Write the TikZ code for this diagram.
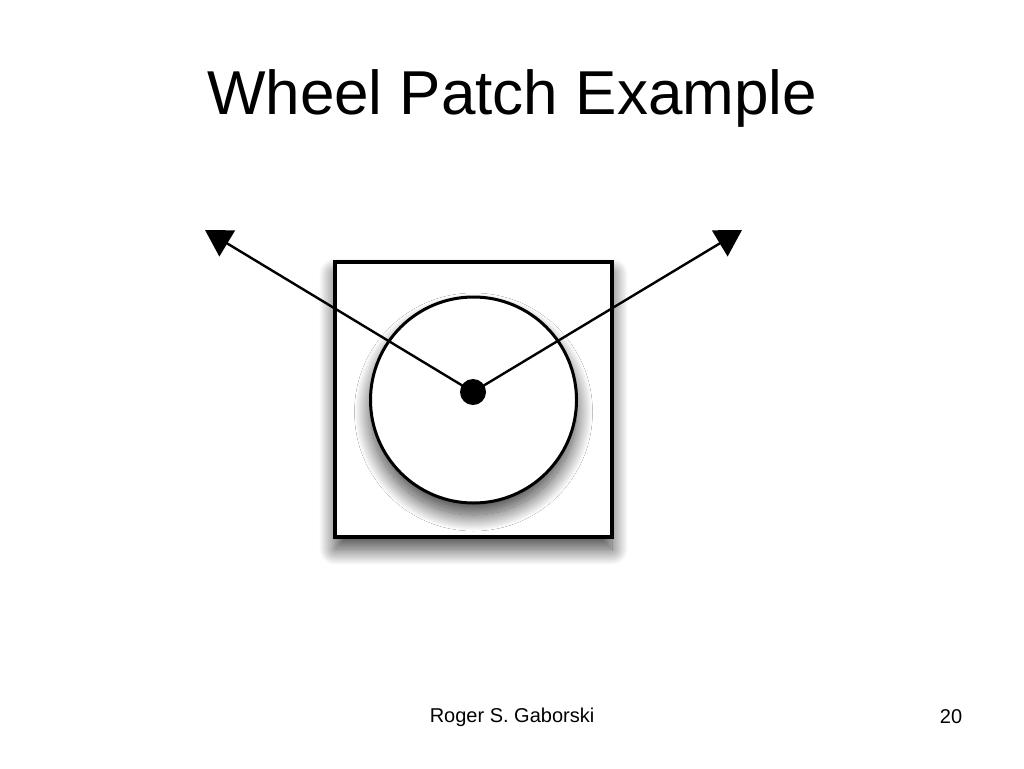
\documentclass[tikz,border=0pt]{standalone}
\usepackage{fontspec}
\setmainfont{Liberation Sans}
\usetikzlibrary{arrows.meta,shadows.blur}

\begin{document}
\begin{tikzpicture}[x=1pt,y=-1pt,>={Triangle[length=26pt,width=30pt]},
        shade/.style={blur shadow={shadow xshift=0pt,shadow yshift=-12pt,shadow blur radius=16pt,shadow blur steps=40,shadow opacity=75}},
        patch/.style={draw,line width=3.5pt,fill=white,shade,minimum width=277pt,minimum height=275pt,inner sep=0pt},
        wheel/.style={circle,draw,line width=3pt,fill=white,shade,minimum size=206pt,inner sep=0pt},
        hub/.style={circle,fill=black,minimum size=26pt,inner sep=0pt}]

                \useasboundingbox (0,0) rectangle (1024,768);

                \node (title) at (512,98) {\fontsize{62}{70}\selectfont Wheel Patch Example};

                \node[patch] (box) at (473.5,399.5) {};

                \node[wheel] (rim) at (473.5,400) {};

                \node[hub] (hub) at (473,392) {};

                \coordinate (tl) at (205,230);

                \coordinate (tr) at (742,230);

                

                \draw[->,line width=2.4pt] (hub.center) -- (tl);

                \draw[->,line width=2.4pt] (hub.center) -- (tr);

                \node (author) at (512,717) {\fontsize{20}{24}\selectfont Roger S. Gaborski};

                \node (page) at (951,717) {\fontsize{20}{24}\selectfont 20};

            \end{tikzpicture}
\end{document}
